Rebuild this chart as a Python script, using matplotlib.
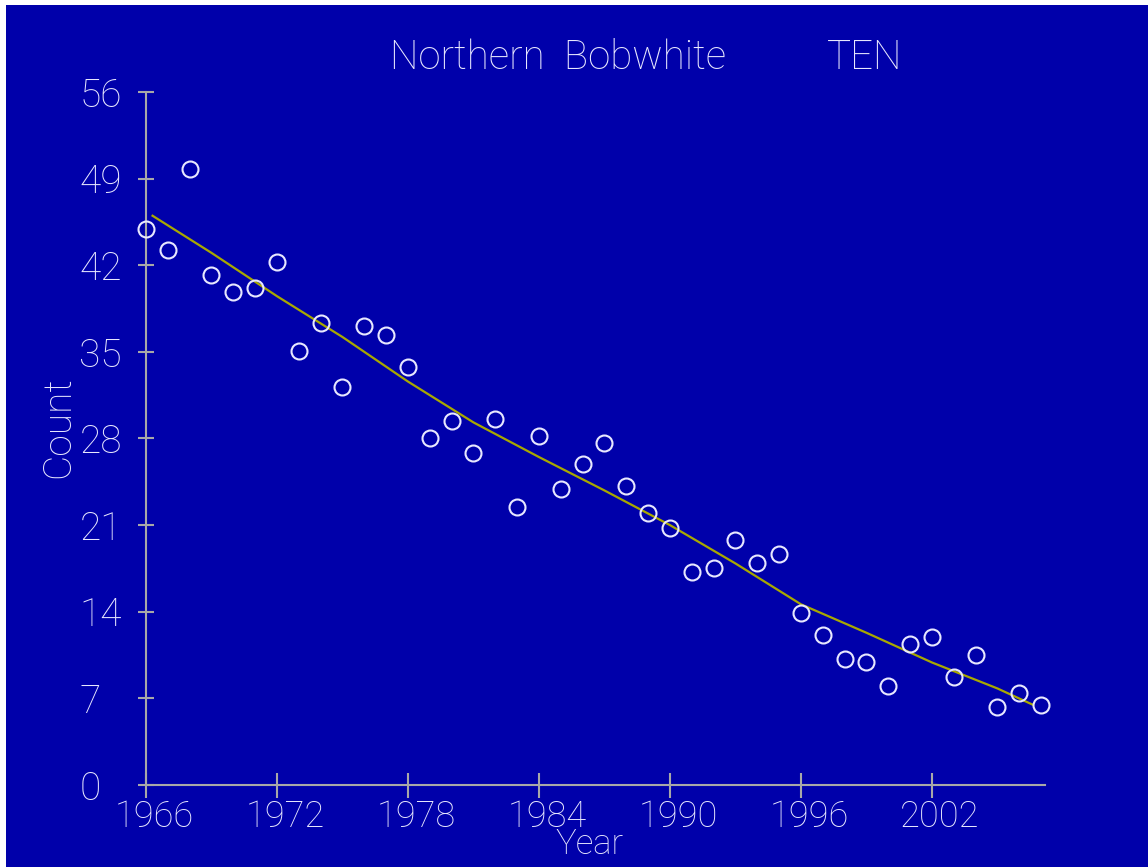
import matplotlib
matplotlib.use("Agg")
import matplotlib.pyplot as plt
from matplotlib.patches import Rectangle
from matplotlib.transforms import ScaledTranslation

# Annual survey counts
years = list(range(1966, 2008))
counts = [44.9, 43.2, 49.8, 41.2, 39.8, 40.2, 42.3, 35.1, 37.3, 32.2,
          37.1, 36.4, 33.8, 28.0, 29.4, 26.8, 29.6, 22.5, 28.2, 23.9,
          25.9, 27.6, 24.2, 22.0, 20.8, 17.2, 17.5, 19.8, 17.9, 18.7,
          13.9, 12.1, 10.2, 9.9, 8.0, 11.4, 12.0, 8.7, 10.5, 6.3,
          7.4, 6.5]

# Smoothed trend
trend_years = [1966.3, 1969, 1972, 1975, 1978, 1981, 1984, 1987, 1990,
               1993, 1996, 1999, 2002, 2005, 2006.6]
trend_vals = [46.0, 43.0, 39.5, 36.2, 32.6, 29.3, 26.5, 23.8, 21.0,
              17.9, 14.6, 12.3, 9.9, 7.8, 6.5]

x_ticks = [1966, 1972, 1978, 1984, 1990, 1996, 2002]
y_ticks = [0, 7, 14, 21, 28, 35, 42, 49, 56]

BG = "#0000AA"
AXC = "#A8A8A8"
TXT = "#E8E8FF"
FONT = "Roboto"
FS = 28

W, H = 1148, 867
fig = plt.figure(figsize=(W / 100, H / 100), dpi=100)
fig.patch.set_facecolor("white")
fig.patches.append(Rectangle((6 / W, 0), 1 - 6 / W, (H - 5) / H,
                             transform=fig.transFigure, facecolor=BG,
                             edgecolor="none", zorder=-10))

left, right, top, bottom = 146, 1045, 92, 785
ax = fig.add_axes([left / W, (H - bottom) / H, (right - left) / W,
                   (bottom - top) / H])
ax.set_facecolor("none")
px_per_year = (932 - 146) / 36
ax.set_xlim(1966, 1966 + (right - left) / px_per_year)
ax.set_ylim(0, 56)

for s in ("top", "right"):
    ax.spines[s].set_visible(False)
for s in ("left", "bottom"):
    ax.spines[s].set_color(AXC)
    ax.spines[s].set_linewidth(1.5)

ax.set_xticks(x_ticks)
ax.set_yticks(y_ticks)
ax.tick_params(axis="x", direction="inout", length=18, width=1.5,
               color=AXC, labelcolor=TXT, labelsize=26, pad=1)
ax.tick_params(axis="y", direction="inout", length=12, width=1.5,
               color=AXC, labelcolor=TXT, labelsize=FS, pad=42)
shift = ScaledTranslation(8 / 100, 0, fig.dpi_scale_trans)
for lab in ax.get_xticklabels():
    lab.set_fontfamily(FONT)
    lab.set_fontweight("light")
    lab.set_transform(lab.get_transform() + shift)
for lab in ax.get_yticklabels():
    lab.set_fontfamily(FONT)
    lab.set_fontweight("light")
    lab.set_horizontalalignment("left")

ax.plot(trend_years, trend_vals, color="#A8A800", lw=1.6, zorder=2)
ax.plot(years, counts, linestyle="none", marker="o", markersize=11.5,
        markerfacecolor="none", markeredgecolor=TXT, markeredgewidth=1.5,
        clip_on=False, zorder=3)

ax.set_xlabel("Year", color=TXT, fontsize=25, fontfamily=FONT,
              fontweight="light")
ax.xaxis.set_label_coords((589 - left) / (right - left),
                          (bottom - 827) / (bottom - top))
ax.set_ylabel("Count", color=TXT, fontsize=FS, fontfamily=FONT,
              fontweight="light")
ax.yaxis.set_label_coords((77 - left) / (right - left),
                          (bottom - 427) / (bottom - top))

fig.text(558 / W, 1 - 58 / H, "Northern  Bobwhite", color=TXT, fontsize=29,
         fontfamily=FONT, fontweight="light", ha="center", va="center")
fig.text(865 / W, 1 - 58 / H, "TEN", color=TXT, fontsize=29,
         fontfamily=FONT, fontweight="light", ha="center", va="center")

fig.savefig("out.png", dpi=100, facecolor=fig.get_facecolor())
